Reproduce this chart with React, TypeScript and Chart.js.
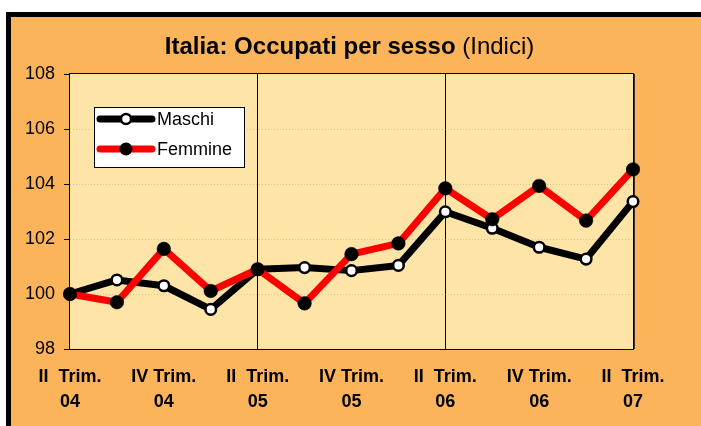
import React, { useEffect, useRef } from 'react';
import { Chart, registerables } from 'chart.js';

Chart.register(...registerables);

// ---- Data ----
const categories = [
  'II  Trim. 04', 'III Trim. 04', 'IV Trim. 04', 'I  Trim. 05',
  'II  Trim. 05', 'III Trim. 05', 'IV Trim. 05', 'I  Trim. 06',
  'II  Trim. 06', 'III Trim. 06', 'IV Trim. 06', 'I  Trim. 07',
  'II  Trim. 07',
];
const maschi = [100.0, 100.51, 100.3, 99.44, 100.9, 100.96, 100.85, 101.04, 102.99, 102.39, 101.7, 101.27, 103.36];
const femmine = [100.0, 99.7, 101.64, 100.11, 100.9, 99.66, 101.45, 101.84, 103.84, 102.72, 103.93, 102.67, 104.53];
const seriesNames = ['Maschi', 'Femmine'];
const yMin = 98;
const yMax = 108;
const yStep = 2;
const titleBold = 'Italia: Occupati per sesso ';
const titleNormal = '(Indici)';

// ---- Styles ----
const FONT = 'Arial, "Liberation Sans", sans-serif';
const FRAME_BG = '#FCB45A';
const PLOT_BG = '#FFE4A8';
const RED = '#FF0000';

const plotPlugin = {
  id: 'plotFrame',
  beforeDraw(chart: any) {
    const { ctx, chartArea } = chart;
    const { left, top, right, bottom } = chartArea;
    ctx.save();
    ctx.fillStyle = PLOT_BG;
    ctx.fillRect(left, top, right - left, bottom - top);
    ctx.restore();
  },
  beforeDatasetsDraw(chart: any) {
    const { ctx, chartArea } = chart;
    const { left, top, right, bottom } = chartArea;
    ctx.save();
    ctx.strokeStyle = '#000';
    ctx.lineWidth = 1;
    ctx.strokeRect(left - 0.5, top - 0.5, right - left + 1, bottom - top + 1);
    ctx.strokeStyle = '#333';
    ctx.beginPath();
    ctx.moveTo(right + 1.5, top);
    ctx.lineTo(right + 1.5, bottom);
    ctx.stroke();
    ctx.restore();
  },
};

const titlePlugin = {
  id: 'mixedTitle',
  afterDraw(chart: any) {
    const { ctx } = chart;
    ctx.save();
    ctx.fillStyle = '#000';
    ctx.textBaseline = 'alphabetic';
    ctx.textAlign = 'left';
    ctx.font = `bold 24px ${FONT}`;
    const wb = ctx.measureText(titleBold).width;
    ctx.font = `24px ${FONT}`;
    const wn = ctx.measureText(titleNormal).width;
    const cx = 349.5;
    const x0 = cx - (wb + wn) / 2;
    const y = 54;
    ctx.font = `bold 24px ${FONT}`;
    ctx.fillText(titleBold, x0, y);
    ctx.font = `24px ${FONT}`;
    ctx.fillText(titleNormal, x0 + wb, y);
    ctx.restore();
  },
};

const legendPlugin = {
  id: 'innerLegend',
  afterDraw(chart: any) {
    const { ctx, chartArea } = chart;
    const x = chartArea.left + 24;
    const y = chartArea.top + 33;
    const w = 150;
    const h = 60;
    ctx.save();
    ctx.fillStyle = '#fff';
    ctx.fillRect(x, y, w, h);
    ctx.strokeStyle = '#000';
    ctx.lineWidth = 1;
    ctx.strokeRect(x + 0.5, y + 0.5, w, h);
    const rows = [
      { name: seriesNames[0], line: '#000', fill: '#fff', r: 5, bw: 2.5 },
      { name: seriesNames[1], line: RED, fill: '#000', r: 6.5, bw: 0 },
    ];
    rows.forEach((row, i) => {
      const cy = y + 12 + i * 30;
      ctx.strokeStyle = row.line;
      ctx.lineWidth = 7;
      ctx.lineCap = 'round';
      ctx.beginPath();
      ctx.moveTo(x + 6, cy);
      ctx.lineTo(x + 58, cy);
      ctx.stroke();
      ctx.beginPath();
      ctx.arc(x + 32, cy, row.r, 0, Math.PI * 2);
      ctx.fillStyle = row.fill;
      ctx.fill();
      if (row.bw) {
        ctx.lineWidth = row.bw;
        ctx.strokeStyle = '#000';
        ctx.stroke();
      }
      ctx.fillStyle = '#000';
      ctx.font = `18px ${FONT}`;
      ctx.textBaseline = 'middle';
      ctx.textAlign = 'left';
      ctx.fillText(row.name, x + 63, cy + 1);
    });
    ctx.restore();
  },
};

export default function App() {
  const ref = useRef<HTMLCanvasElement>(null);

  useEffect(() => {
    if (!ref.current) return;
    const chart = new Chart(ref.current, {
      type: 'line',
      data: {
        labels: categories,
        datasets: [
          {
            label: seriesNames[0],
            data: maschi,
            borderColor: '#000',
            borderWidth: 7,
            pointRadius: 0,
            borderJoinStyle: 'round',
            borderCapStyle: 'round',
            tension: 0,
            order: 4,
          },
          {
            label: seriesNames[1],
            data: femmine,
            borderColor: RED,
            borderWidth: 7,
            pointRadius: 0,
            borderJoinStyle: 'round',
            borderCapStyle: 'round',
            tension: 0,
            order: 3,
          },
          {
            label: seriesNames[0] + ' markers',
            data: maschi,
            showLine: false,
            pointRadius: 5.3,
            pointBackgroundColor: '#fff',
            pointBorderColor: '#000',
            pointBorderWidth: 2.5,
            order: 2,
          },
          {
            label: seriesNames[1] + ' markers',
            data: femmine,
            showLine: false,
            pointRadius: 6.8,
            pointBackgroundColor: '#000',
            pointBorderColor: '#000',
            pointBorderWidth: 0.5,
            order: 1,
          },
        ],
      },
      options: {
        responsive: false,
        animation: false,
        layout: { padding: { left: 12, right: 68, top: 74, bottom: 0 } },
        plugins: {
          legend: { display: false },
          title: { display: false },
          tooltip: { enabled: false },
        },
        scales: {
          x: {
            offset: false,
            border: { display: false },
            grid: {
              drawTicks: false,
              color: (c: any) => (c.index === 4 || c.index === 8 ? '#000' : 'rgba(0,0,0,0)'),
              lineWidth: 1,
            },
            ticks: {
              autoSkip: false,
              maxRotation: 0,
              minRotation: 0,
              padding: 16,
              color: '#000',
              font: { family: FONT, size: 18, weight: 'bold', lineHeight: 25 / 18 },
              callback: (_v: any, i: number) => {
                if (i % 2 !== 0) return '';
                const s = categories[i];
                const k = s.lastIndexOf(' ');
                return [s.slice(0, k), s.slice(k + 1)];
              },
            },
            afterFit: (s: any) => {
              s.height = 77;
            },
          },
          y: {
            min: yMin,
            max: yMax,
            border: { display: false, dash: [1, 2] },
            grid: {
              drawTicks: true,
              tickLength: 6,
              tickColor: '#000',
              tickBorderDash: [],
              color: (c: any) =>
                c.tick && (c.tick.value === yMin || c.tick.value === yMax)
                  ? 'rgba(0,0,0,0)'
                  : 'rgba(150,140,130,0.35)',
              lineWidth: 1,
            },
            ticks: {
              stepSize: yStep,
              padding: 9,
              color: '#000',
              font: { family: FONT, size: 18 },
            },
            afterFit: (s: any) => {
              s.width = 58;
            },
          },
        },
      },
      plugins: [plotPlugin, titlePlugin, legendPlugin],
    });
    return () => chart.destroy();
  }, []);

  return (
    <>
      <div
        style={{
          position: 'fixed',
          left: 6,
          top: 12,
          width: 800,
          height: 500,
          boxSizing: 'border-box',
          border: '5px solid #000',
          background: FRAME_BG,
        }}
      />
      <canvas
        ref={ref}
        width={701}
        height={426}
        style={{ position: 'fixed', left: 0, top: 0, width: 701, height: 426 }}
      />
    </>
  );
}
